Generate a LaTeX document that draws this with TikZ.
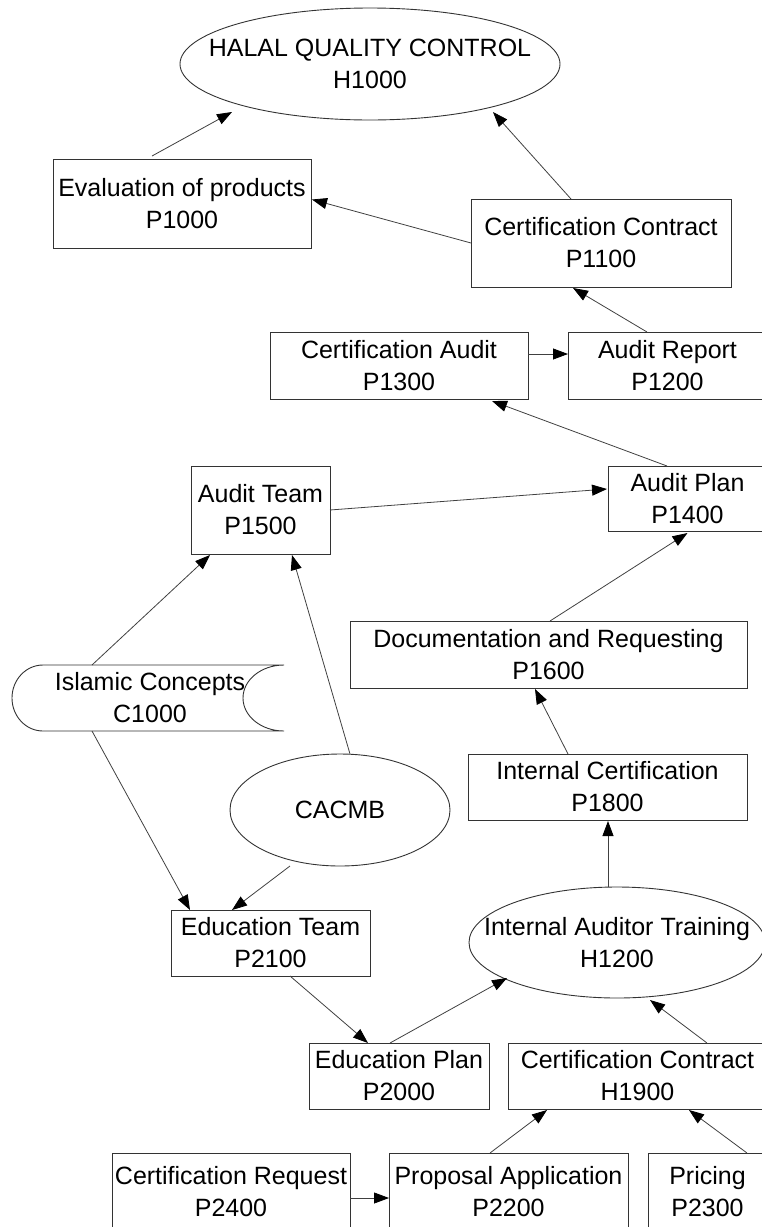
\documentclass[tikz,border=0pt]{standalone}
\usepackage{fontspec}
\setmainfont{Liberation Sans}
\usetikzlibrary{arrows.meta}
\begin{document}
\begin{tikzpicture}[x=1pt,y=-1pt,
  every node/.style={font=\fontsize{25}{32}\selectfont, align=center, inner sep=0pt},
  box/.style={draw=black!80, line width=1pt, rectangle},
  oval/.style={draw=black!80, line width=0.9pt},
  arr/.style={draw=black!75, line width=0.8pt, -{Triangle[length=15pt,width=11pt,color=black]}}
]
\useasboundingbox (0,0) rectangle (761,1227);

% ellipse nodes (text) + outlines
\node (H1000) at (370,64) {HALAL QUALITY CONTROL\\H1000};
\draw[oval] (H1000.center) ellipse [x radius=190pt, y radius=56pt];
\node (CACMB) at (340,810) {CACMB};
\draw[oval] (CACMB.center) ellipse [x radius=110pt, y radius=56pt];
\node (H1200) at (617,942.5) {Internal Auditor Training\\H1200};
\draw[oval] (H1200.center) ellipse [x radius=148pt, y radius=55.5pt];

% stored-data shape
\node (C1000) at (150,698) {Islamic Concepts\\C1000};
\draw[oval] ([shift={(134,-33)}]C1000.center)
  arc[start angle=90, end angle=270, x radius=41pt, y radius=33pt]
  -- ++(-241,0)
  arc[start angle=270, end angle=90, x radius=31pt, y radius=33pt]
  -- cycle;

% boxes
\node[box, minimum width=258pt, minimum height=89pt] (P1000) at (182,203.5) {Evaluation of products\\P1000};
\node[box, minimum width=260pt, minimum height=88pt] (P1100) at (601,243) {Certification Contract\\P1100};
\node[box, minimum width=258pt, minimum height=67pt] (P1300) at (399,365.5) {Certification Audit\\P1300};
\node[box, minimum width=199pt, minimum height=67pt] (P1200) at (667.5,365.5) {Audit Report\\P1200};
\node[box, minimum width=159pt, minimum height=65pt] (P1400) at (687.5,498.5) {Audit Plan\\P1400};
\node[box, minimum width=139pt, minimum height=88pt] (P1500) at (260.5,510) {Audit Team\\P1500};
\node[box, minimum width=397pt, minimum height=67pt] (P1600) at (548.5,654.5) {Documentation and Requesting\\P1600};
\node[box, minimum width=279pt, minimum height=66pt] (P1800) at (607.5,787) {Internal Certification\\P1800};
\node[box, minimum width=199pt, minimum height=66pt] (P2100) at (270.5,943) {Education Team\\P2100};
\node[box, minimum width=180pt, minimum height=66pt] (P2000) at (399,1076) {Education Plan\\P2000};
\node[box, minimum width=259pt, minimum height=66pt] (H1900) at (637.5,1076) {Certification Contract\\H1900};
\node[box, minimum width=238pt, minimum height=77pt] (P2400) at (231,1191.5) {Certification Request\\P2400};
\node[box, minimum width=239pt, minimum height=77pt] (P2200) at (508.5,1191.5) {Proposal Application\\P2200};
\node[box, minimum width=119pt, minimum height=77pt] (P2300) at (707.5,1191.5) {Pricing\\P2300};

% connectors
\draw[arr] ([shift={(-30,-47.5)}]P1000.center) -- ([shift={(-138,48)}]H1000.center);
\draw[arr] ([shift={(-30,-44)}]P1100.center) -- ([shift={(123,48)}]H1000.center);
\draw[arr] ([shift={(-130,0)}]P1100.center) -- ([shift={(130,-4)}]P1000.center);
\draw[arr] ([shift={(-20.5,-33.5)}]P1200.center) -- ([shift={(-28,45)}]P1100.center);
\draw[arr] ([shift={(129,-11.5)}]P1300.center) -- ([shift={(-99.5,-11.5)}]P1200.center);
\draw[arr] ([shift={(-20.5,-32.5)}]P1400.center) -- ([shift={(93,35.5)}]P1300.center);
\draw[arr] ([shift={(69.5,0)}]P1500.center) -- ([shift={(-80.5,-9.5)}]P1400.center);
\draw[arr] ([shift={(1.5,-33.5)}]P1600.center) -- ([shift={(0,34.5)}]P1400.center);
\draw[arr] ([shift={(-39.5,-33)}]P1800.center) -- ([shift={(-13.5,34.5)}]P1600.center);
\draw[arr] ([shift={(-9,-55.5)}]H1200.center) -- ([shift={(0.5,34)}]P1800.center);
\draw[arr] ([shift={(-58,-33)}]C1000.center) -- ([shift={(-50.5,45)}]P1500.center);
\draw[arr] ([shift={(10,-56)}]CACMB.center) -- ([shift={(31.5,45)}]P1500.center);
\draw[arr] ([shift={(-58,33)}]C1000.center) -- ([shift={(-80.5,-33)}]P2100.center);
\draw[arr] ([shift={(-50,56)}]CACMB.center) -- ([shift={(-38.5,-33)}]P2100.center);
\draw[arr] ([shift={(19.5,33)}]P2100.center) -- ([shift={(-31,-33)}]P2000.center);
\draw[arr] ([shift={(-9,-33)}]P2000.center) -- ([shift={(-110,35.5)}]H1200.center);
\draw[arr] ([shift={(69.5,-33)}]H1900.center) -- ([shift={(33,57.5)}]H1200.center);
\draw[arr] ([shift={(-18.5,-38.5)}]P2200.center) -- ([shift={(-90.5,34)}]H1900.center);
\draw[arr] ([shift={(39.5,-38.5)}]P2300.center) -- ([shift={(51.5,34)}]H1900.center);
\draw[arr] ([shift={(119,6.5)}]P2400.center) -- ([shift={(-119.5,6.5)}]P2200.center);
\end{tikzpicture}
\end{document}
